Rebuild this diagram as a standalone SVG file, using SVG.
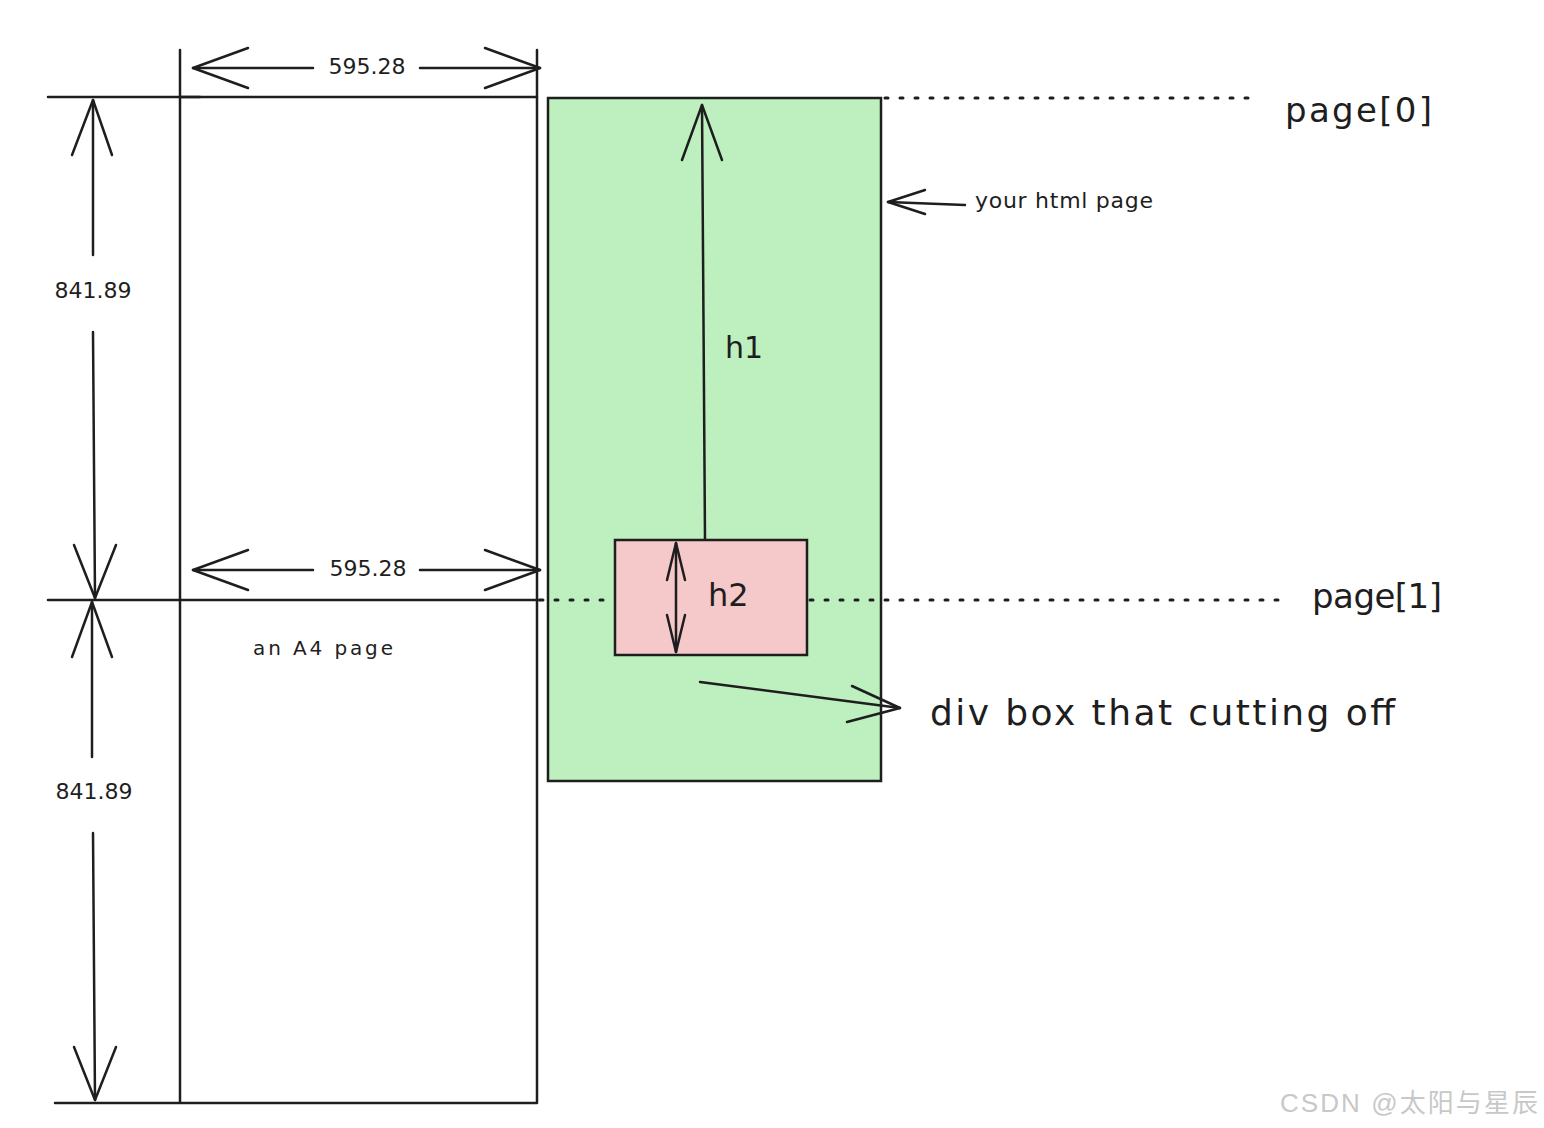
<svg xmlns="http://www.w3.org/2000/svg" width="1544" height="1128" viewBox="0 0 1544 1128">
<style>
.l{stroke:#1e1e1e;stroke-width:2.5;fill:none;stroke-linecap:round;stroke-linejoin:round}
.d{stroke:#1e1e1e;stroke-width:3;fill:none;stroke-dasharray:3 12;stroke-linecap:round}
.t{font-family:"Comic Sans MS","DejaVu Sans",sans-serif;fill:#1e1e1e}
</style>
<rect width="1544" height="1128" fill="#fff"/>
<g id="a4">
<line class="l" x1="48" y1="97" x2="200" y2="97"/>
<line class="l" x1="180" y1="97" x2="537" y2="97"/>
<line class="l" x1="180" y1="50" x2="180" y2="1102"/>
<line class="l" x1="537" y1="50" x2="537" y2="1102"/>
<line class="l" x1="48" y1="600" x2="540" y2="600"/>
<line class="l" x1="55" y1="1103" x2="537" y2="1103"/>
<text class="t" x="253" y="655" font-size="20" textLength="140">an A4 page</text>
</g>
<g id="dims">
<line class="l" x1="193" y1="68" x2="313" y2="68"/><line class="l" x1="420" y1="68" x2="540" y2="68"/>
<polyline class="l" points="248,48 193,68 248,88"/><polyline class="l" points="485,48 540,68 485,88"/>
<text class="t" x="367" y="74" font-size="22" text-anchor="middle">595.28</text>
<line class="l" x1="193" y1="570" x2="313" y2="570"/><line class="l" x1="420" y1="570" x2="540" y2="570"/>
<polyline class="l" points="248,550 193,570 248,590"/><polyline class="l" points="485,550 540,570 485,590"/>
<text class="t" x="368" y="576" font-size="22" text-anchor="middle">595.28</text>
<line class="l" x1="93" y1="100" x2="93" y2="255"/><line class="l" x1="93" y1="332" x2="95" y2="598"/>
<polyline class="l" points="72,155 93,100 112,155"/><polyline class="l" points="74,545 95,598 116,545"/>
<text class="t" x="93" y="298" font-size="22" text-anchor="middle">841.89</text>
<line class="l" x1="92" y1="602" x2="92" y2="757"/><line class="l" x1="93" y1="833" x2="95" y2="1100"/>
<polyline class="l" points="72,657 92,602 112,657"/><polyline class="l" points="74,1047 95,1100 116,1047"/>
<text class="t" x="94" y="799" font-size="22" text-anchor="middle">841.89</text>
</g>
<g id="html">
<rect x="548" y="98" width="333" height="683" fill="#bdefbf" stroke="#1e1e1e" stroke-width="2.5"/>
<line class="d" x1="885" y1="98" x2="1255" y2="98"/>
<text class="t" x="1285" y="122" font-size="34" textLength="147">page[0]</text>
<line class="l" x1="965" y1="205" x2="888" y2="202"/><polyline class="l" points="925,190 888,202 925,214"/>
<text class="t" x="975" y="208" font-size="22" textLength="178">your html page</text>
<line class="l" x1="705" y1="540" x2="702" y2="105"/><polyline class="l" points="682,160 702,105 722,160"/>
<text class="t" x="725" y="358" font-size="30">h1</text>
</g>
<g id="div">
<rect x="615" y="540" width="192" height="115" fill="#f5c9c9" stroke="#1e1e1e" stroke-width="2.5"/>
<line class="l" x1="676" y1="543" x2="676" y2="652"/><polyline class="l" points="667,580 676,543 685,580"/><polyline class="l" points="667,615 676,652 685,615"/>
<text class="t" x="708" y="606" font-size="32">h2</text>
<line class="d" x1="540" y1="600" x2="612" y2="600"/>
<line class="d" x1="810" y1="600" x2="1285" y2="600"/>
<text class="t" x="1312" y="608" font-size="34" textLength="130">page[1]</text>
<line class="l" x1="700" y1="682" x2="900" y2="708"/><polyline class="l" points="852,686 900,708 847,722"/>
<text class="t" x="930" y="725" font-size="36" textLength="465">div box that cutting off</text>
</g>
<text x="1280" y="1112" font-family="'Liberation Sans','Noto Sans CJK SC',sans-serif" font-size="26" fill="#c8c8c8" textLength="258">CSDN @太阳与星辰</text>
</svg>
